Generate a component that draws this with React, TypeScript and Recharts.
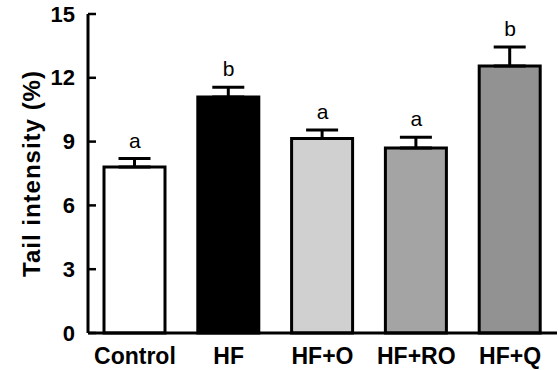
import React from 'react';
import { ComposedChart, Bar, Cell, Line, XAxis, YAxis, ErrorBar, LabelList, Label } from 'recharts';

const categories = ['Control', 'HF', 'HF+O', 'HF+RO', 'HF+Q'];
const means = [7.8, 11.1, 9.15, 8.7, 12.55];
const sems = [0.4, 0.45, 0.4, 0.5, 0.9];
const letters = ['a', 'b', 'a', 'a', 'b'];
const fills = ['#ffffff', '#000000', '#d0d0d0', '#a4a4a4', '#929292'];
const yTicks = [0, 3, 6, 9, 12, 15];

const data = categories.map((c, i) => ({
  name: c,
  value: means[i],
  err: [0, sems[i]],
  top: means[i] + sems[i],
  letter: letters[i],
}));

const FONT = '"Liberation Sans", Arial, Helvetica, sans-serif';

const YTick = (props: any) => {
  const { x, y, payload } = props;
  return (
    <g>
      <line x1={x + 13} x2={x + 21} y1={y} y2={y} stroke="#000" strokeWidth={2.5} />
      <text x={x} y={y} dy={7.5} textAnchor="end" fontFamily={FONT} fontWeight="bold" fontSize={22} fill="#000">
        {payload.value}
      </text>
    </g>
  );
};

const YLabel = (props: any) => {
  const vb = props.viewBox;
  const cx = 31;
  const cy = vb.y + vb.height / 2;
  return (
    <text x={cx} y={cy} transform={`rotate(-90 ${cx} ${cy})`} textAnchor="middle" dominantBaseline="central"
      fontFamily={FONT} fontWeight="bold" fontSize={24} letterSpacing={1} fill="#000">
      Tail intensity (%)
    </text>
  );
};

export default function App() {
  return (
    <div style={{ position: 'absolute', left: 0, top: 0, background: '#fff' }}>
      <ComposedChart width={558} height={370} data={data} margin={{ top: 14, right: 1, bottom: 0, left: 0 }}>
        <XAxis xAxisId="top" orientation="top" dataKey="name" height={0} tick={false} tickLine={false}
          axisLine={{ stroke: '#000', strokeWidth: 2 }} />
        <YAxis yAxisId="r" orientation="right" width={0} domain={[0, 15]} ticks={yTicks} tick={false} tickLine={false}
          axisLine={{ stroke: '#000', strokeWidth: 2 }} />
        <XAxis dataKey="name" height={37} tickLine={false} tickSize={0} tickMargin={15}
          axisLine={{ stroke: '#000', strokeWidth: 3 }}
          tick={{ fill: '#000', fontFamily: FONT, fontWeight: 'bold', fontSize: 23 }} />
        <YAxis width={88} domain={[0, 15]} ticks={yTicks} tickLine={false} tickSize={0} tickMargin={13}
          axisLine={{ stroke: '#000', strokeWidth: 3 }} tick={<YTick />} interval={0}>
          <Label content={<YLabel />} />
        </YAxis>
        <Bar dataKey="value" barSize={61} stroke="#000" strokeWidth={3} isAnimationActive={false}>
          {data.map((d, i) => (
            <Cell key={d.name} fill={fills[i]} />
          ))}
          <ErrorBar dataKey="err" width={16} stroke="#000" strokeWidth={3} direction="y" />
        </Bar>
        <Line dataKey="top" stroke="none" dot={false} activeDot={false} isAnimationActive={false} legendType="none">
          <LabelList dataKey="letter" position="top" offset={11} fill="#000" fontFamily={FONT} fontSize={21} />
        </Line>
      </ComposedChart>
    </div>
  );
}
